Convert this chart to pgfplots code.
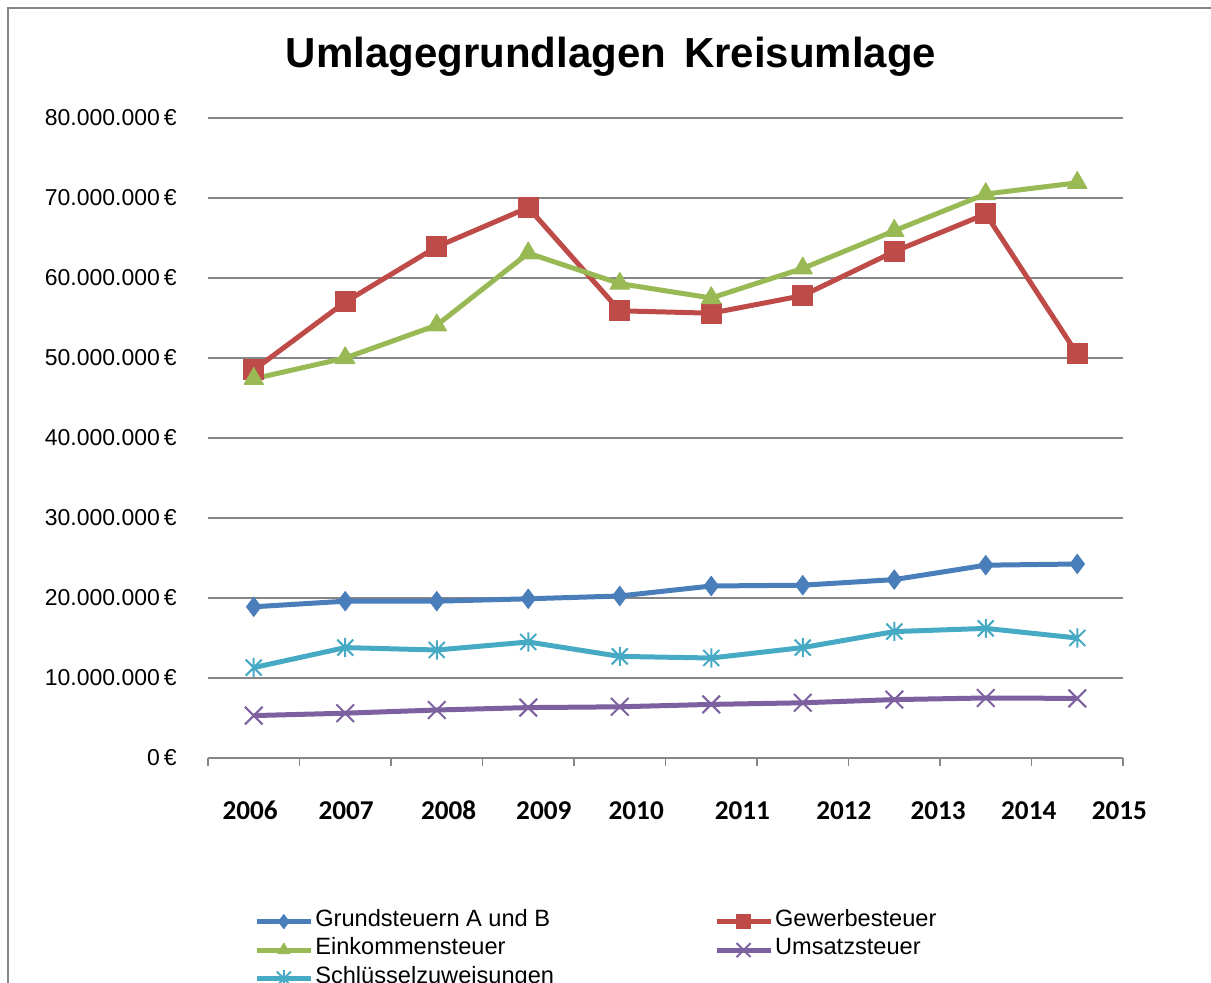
\documentclass[border=0pt]{standalone}
\usepackage{fontspec}
\setmainfont{Liberation Sans}
\newfontfamily\yearfont{Carlito}
\usepackage{pgfplots}
\pgfplotsset{compat=1.18}
\usetikzlibrary{plotmarks}

\definecolor{cBlue}{HTML}{4A7EBB}
\definecolor{cRed}{HTML}{BE4B48}
\definecolor{cGreen}{HTML}{98B954}
\definecolor{cPurple}{HTML}{7D60A0}
\definecolor{cCyan}{HTML}{46AAC5}
\definecolor{gridgray}{HTML}{868686}

% Excel-like cross and star markers
\pgfdeclareplotmark{xcross}{%
  \pgfpathmoveto{\pgfqpoint{-\pgfplotmarksize}{-\pgfplotmarksize}}%
  \pgfpathlineto{\pgfqpoint{\pgfplotmarksize}{\pgfplotmarksize}}%
  \pgfpathmoveto{\pgfqpoint{-\pgfplotmarksize}{\pgfplotmarksize}}%
  \pgfpathlineto{\pgfqpoint{\pgfplotmarksize}{-\pgfplotmarksize}}%
  \pgfusepathqstroke}
\pgfdeclareplotmark{xstar}{%
  \pgfpathmoveto{\pgfqpoint{-\pgfplotmarksize}{-\pgfplotmarksize}}%
  \pgfpathlineto{\pgfqpoint{\pgfplotmarksize}{\pgfplotmarksize}}%
  \pgfpathmoveto{\pgfqpoint{-\pgfplotmarksize}{\pgfplotmarksize}}%
  \pgfpathlineto{\pgfqpoint{\pgfplotmarksize}{-\pgfplotmarksize}}%
  \pgfpathmoveto{\pgfqpoint{0pt}{-1.2\pgfplotmarksize}}%
  \pgfpathlineto{\pgfqpoint{0pt}{1.2\pgfplotmarksize}}%
  \pgfusepathqstroke}

\begin{document}
\begin{tikzpicture}
\useasboundingbox (-104pt,-112.5pt) rectangle (501.5pt,379pt);
\draw[gridgray, line width=1pt] (-100pt,-130pt) -- (-100pt,375pt) -- (520pt,375pt);
\node[anchor=base, font=\fontsize{21}{25}\selectfont\bfseries] at (201.5pt,345pt)
  {Umlagegrundlagen\hspace{9pt}Kreisumlage};
\begin{axis}[
  scale only axis, width=457.5pt, height=320pt,
  xmin=-0.5, xmax=9.5, ymin=0, ymax=80,
  axis x line*=bottom, axis y line*=left,
  y axis line style={draw=none},
  x axis line style={draw=gridgray, line width=0.8pt},
  tick align=outside,
  xtick={-0.5,0.5,...,9.5}, xticklabels={},
  xtick style={draw=gridgray, line width=0.8pt},
  major tick length=4pt,
  ytick={0,10,...,80},
  yticklabels={0\,€, 10.000.000\,€, 20.000.000\,€, 30.000.000\,€, 40.000.000\,€,
    50.000.000\,€, 60.000.000\,€, 70.000.000\,€, 80.000.000\,€},
  ytick style={draw=none},
  yticklabel style={font=\fontsize{11.5}{13}\selectfont, anchor=east, inner sep=0pt, xshift=-11.5pt},
  ymajorgrids, major grid style={draw=gridgray, line width=0.8pt},
  extra x ticks={-0.04,1.01,2.13,3.17,4.18,5.34,6.45,7.48,8.47,9.46},
  extra x tick labels={2006,2007,2008,2009,2010,2011,2012,2013,2014,2015},
  extra x tick style={major tick length=0pt,
    tick label style={font=\yearfont\fontsize{13.6}{16}\selectfont\bfseries, anchor=base, yshift=-31pt}},
  every axis plot/.append style={line width=2.5pt, line join=round},
  legend columns=2,
  legend cell align=left,
  legend style={at={(0.0502,-0.2328)}, anchor=north west, draw=none, fill=none,
    inner sep=0pt, row sep=0pt,
    font=\fontsize{11.8}{14}\selectfont,
    nodes={inner ysep=0pt, inner xsep=1pt, text height=9.5pt, text depth=4.75pt},
    /tikz/every even column/.append style={column sep=79pt}},
  legend image code/.code={\draw[mark repeat=2, mark phase=2, mark size=3.5pt]
    plot coordinates {(0pt,0pt) (13.5pt,0pt) (27pt,0pt)};},
  clip=false,
]
\addplot[cBlue, mark=diamond*, mark size=4.8pt, mark options={solid, fill=cBlue, line width=0.5pt}]
  coordinates {(0,18.9) (1,19.6) (2,19.6) (3,19.9) (4,20.25) (5,21.5) (6,21.6) (7,22.3) (8,24.1) (9,24.25)};
\addlegendentry{Grundsteuern A und B}
\addplot[cRed, mark=square*, mark size=5pt, mark options={solid, fill=cRed, line width=0.5pt}]
  coordinates {(0,48.5) (1,57.0) (2,63.9) (3,68.8) (4,55.9) (5,55.6) (6,57.8) (7,63.3) (8,68.0) (9,50.5)};
\addlegendentry{Gewerbesteuer}
\addplot[cGreen, mark=triangle*, mark size=5.6pt, mark options={solid, fill=cGreen, line width=0.5pt}]
  coordinates {(0,47.4) (1,50.0) (2,54.1) (3,63.1) (4,59.3) (5,57.5) (6,61.2) (7,65.9) (8,70.5) (9,71.9)};
\addlegendentry{Einkommensteuer}
\addplot[cPurple, mark=xcross, mark size=4.4pt, mark options={solid, line width=1pt}]
  coordinates {(0,5.3) (1,5.6) (2,6.0) (3,6.3) (4,6.4) (5,6.7) (6,6.9) (7,7.3) (8,7.5) (9,7.45)};
\addlegendentry{Umsatzsteuer}
\addplot[cCyan, mark=xstar, mark size=4pt, mark options={solid, line width=1pt}]
  coordinates {(0,11.3) (1,13.8) (2,13.5) (3,14.5) (4,12.7) (5,12.5) (6,13.8) (7,15.8) (8,16.2) (9,15.0)};
\addlegendentry{Schlüsselzuweisungen}
\end{axis}
\end{tikzpicture}
\end{document}
